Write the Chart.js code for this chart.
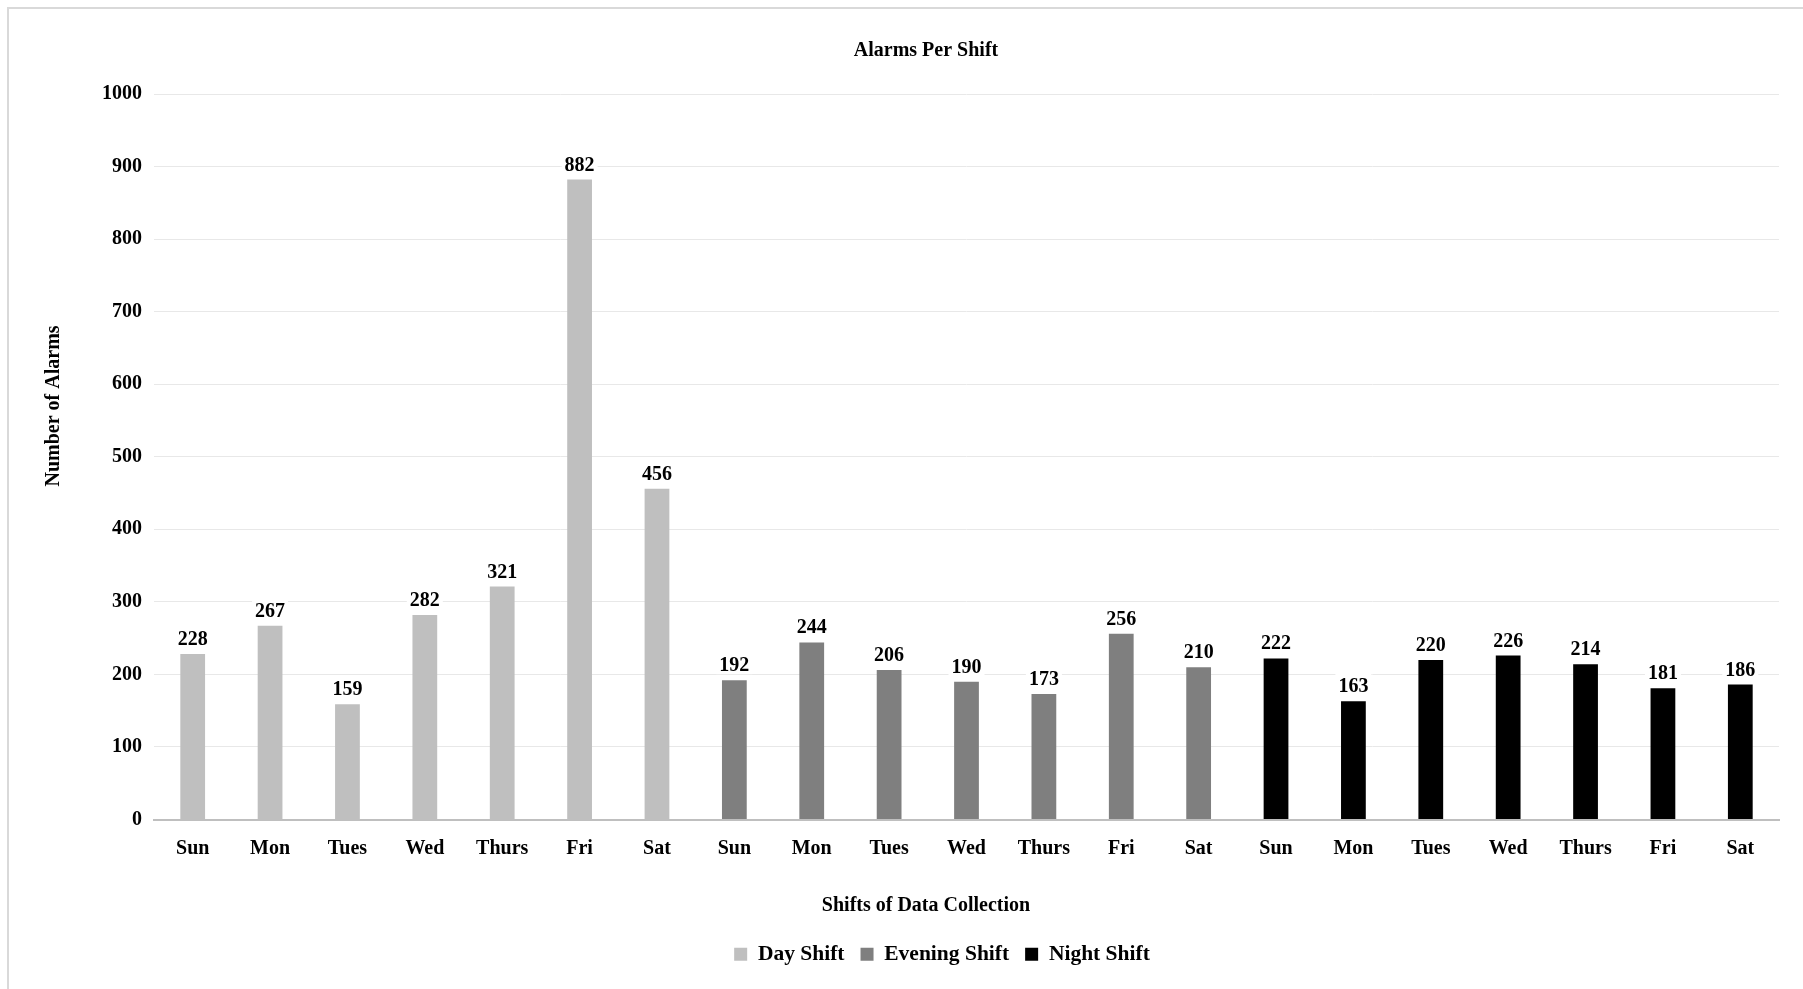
<!DOCTYPE html>
<html>
<head>
<meta charset="utf-8">
<title>Alarms Per Shift</title>
<script src="https://cdn.jsdelivr.net/npm/chart.js@4/dist/chart.umd.min.js"></script>
<style>
  html, body { margin: 0; padding: 0; background: #ffffff; overflow: hidden; width: 1803px; height: 989px; }
  #frame { position: absolute; left: 7px; top: 7px; width: 1900px; height: 1100px; border: 2px solid #d9d9d9; box-sizing: border-box; }
  #chart { position: absolute; left: 9px; top: 9px; }
</style>
</head>
<body>
<div id="frame"></div>
<canvas id="chart" width="1834" height="990"></canvas>
<script>
// Weekday names used for each shift block
const days = ['Sun', 'Mon', 'Tues', 'Wed', 'Thurs', 'Fri', 'Sat'];

// Alarm counts per weekday, one array per shift
const dayShift     = [228, 267, 159, 282, 321, 882, 456];
const eveningShift = [192, 244, 206, 190, 173, 256, 210];
const nightShift   = [222, 163, 220, 226, 214, 181, 186];

// Y axis range
const yMin = 0;
const yMax = 1000;
const yStep = 100;

const shiftNames  = ['Day Shift', 'Evening Shift', 'Night Shift'];
const shiftColors = ['#bfbfbf', '#7f7f7f', '#000000'];

// One category per (shift, weekday); each shift occupies its own block of seven
const labels = [].concat(days, days, days);
const shiftValues = [dayShift, eveningShift, nightShift];
const datasets = shiftValues.map((vals, s) => {
  const data = labels.map(() => null);
  vals.forEach((v, i) => { data[s * days.length + i] = v; });
  return {
    label: shiftNames[s],
    data: data,
    backgroundColor: shiftColors[s],
    borderWidth: 0,
    grouped: false,
    categoryPercentage: 1.0,
    barPercentage: 0.32
  };
});

const FONT_FAMILY = '"Liberation Serif", "Times New Roman", serif';
const boldFont = (size) => ({ family: FONT_FAMILY, size: size, weight: 'bold', lineHeight: 1.2 });

// Value labels above each bar, on a white backing so gridlines break behind them
const valueLabels = {
  id: 'valueLabels',
  afterDatasetsDraw(chart) {
    const ctx = chart.ctx;
    ctx.save();
    ctx.font = 'bold 20px ' + FONT_FAMILY;
    ctx.textAlign = 'center';
    ctx.textBaseline = 'alphabetic';
    chart.data.datasets.forEach((ds, di) => {
      const meta = chart.getDatasetMeta(di);
      meta.data.forEach((el, i) => {
        const v = ds.data[i];
        if (v === null || v === undefined) return;
        const text = String(v);
        const w = ctx.measureText(text).width;
        ctx.fillStyle = '#ffffff';
        ctx.fillRect(el.x - w / 2 - 3, el.y - 28, w + 6, 22);
        ctx.fillStyle = '#000000';
        ctx.fillText(text, el.x, el.y - 9);
      });
    });
    ctx.restore();
  }
};

// Vertical axis caption, set slightly above the middle of the plot
const yAxisCaption = {
  id: 'yAxisCaption',
  afterDraw(chart) {
    const { ctx, chartArea } = chart;
    ctx.save();
    ctx.font = 'bold 20px ' + FONT_FAMILY;
    ctx.fillStyle = '#000000';
    ctx.textAlign = 'center';
    ctx.textBaseline = 'middle';
    ctx.translate(45, chartArea.top + 0.43 * (chartArea.bottom - chartArea.top));
    ctx.rotate(-Math.PI / 2);
    ctx.fillText('Number of Alarms', 0, 0);
    ctx.restore();
  }
};

// Nudge the legend row a little to the right of the canvas centre
const legendNudge = {
  id: 'legendNudge',
  afterLayout(chart) {
    const lg = chart.legend;
    if (!lg) return;
    lg.left += 16;
    lg.right += 16;
  }
};

new Chart(document.getElementById('chart'), {
  type: 'bar',
  data: { labels: labels, datasets: datasets },
  plugins: [valueLabels, yAxisCaption, legendNudge],
  options: {
    responsive: false,
    animation: false,
    devicePixelRatio: 1,
    layout: { padding: { left: 64, right: 64, top: 0, bottom: 24 } },
    scales: {
      x: {
        grid: { display: false, drawTicks: false },
        border: { display: true, color: '#bfbfbf', width: 2 },
        ticks: {
          autoSkip: false,
          maxRotation: 0,
          minRotation: 0,
          padding: 17,
          color: '#000000',
          font: boldFont(20)
        }
      },
      y: {
        min: yMin,
        max: yMax,
        afterFit(scale) { scale.width = 81; },
        grid: { color: '#e8e8e8', lineWidth: 1, drawTicks: false },
        border: { display: false },
        ticks: {
          stepSize: yStep,
          padding: 12,
          color: '#000000',
          font: boldFont(20),
          callback: (value) => String(value)
        }
      }
    },
    plugins: {
      title: {
        display: true,
        text: 'Alarms Per Shift',
        color: '#000000',
        font: boldFont(20),
        padding: { top: 30, bottom: 31 }
      },
      subtitle: {
        display: true,
        text: 'Shifts of Data Collection',
        position: 'bottom',
        color: '#000000',
        font: boldFont(20),
        padding: { top: 16, bottom: 10 }
      },
      legend: {
        display: true,
        position: 'bottom',
        weight: 3000,
        labels: {
          boxWidth: 13,
          boxHeight: 13,
          padding: 16,
          color: '#000000',
          font: boldFont(21.5)
        }
      },
      tooltip: { enabled: false }
    }
  }
});
</script>
</body>
</html>
